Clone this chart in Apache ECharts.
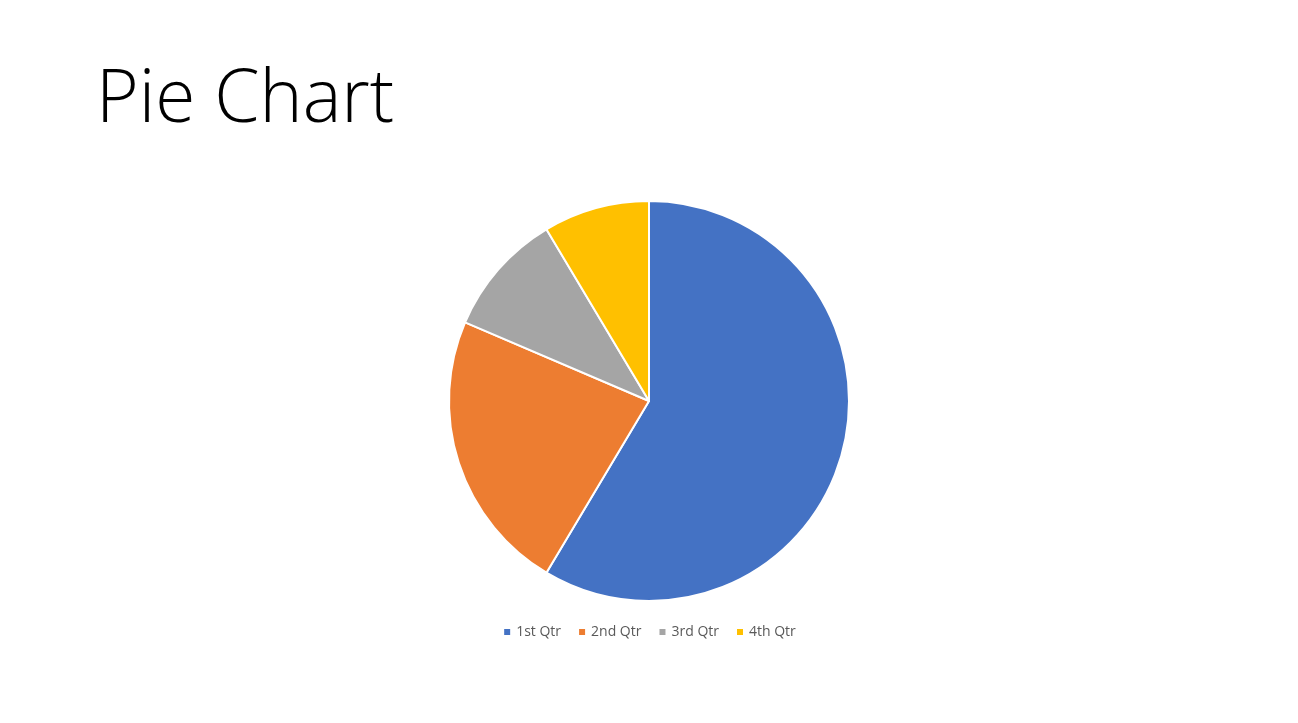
<!DOCTYPE html>
<html><head><meta charset="utf-8">
<script src="https://cdn.jsdelivr.net/npm/echarts@6/dist/echarts.min.js"></script>
<style>html,body{margin:0;padding:0;background:#fff}#c{width:1298px;height:723px}</style>
</head><body><div id="c"></div>
<script>
const titleText = 'Pie Chart';
const categories = ['1st Qtr', '2nd Qtr', '3rd Qtr', '4th Qtr'];
const values = [8.2, 3.2, 1.4, 1.2];
const colors = ['#4472C4', '#ED7D31', '#A5A5A5', '#FFC000'];

const chart = echarts.init(document.getElementById('c'), null, {renderer: 'canvas'});
chart.setOption({
  backgroundColor: '#fff',
  animation: false,
  color: colors,
  title: {
    text: titleText, left: 91, top: 60,
    textStyle: {fontFamily: 'Open Sans', fontWeight: 300, fontSize: 73, color: '#000'}
  },
  legend: {
    data: categories, bottom: 79, left: 'center',
    icon: 'rect', itemWidth: 8, itemHeight: 8, itemGap: 16,
    textStyle: {fontFamily: 'Open Sans', fontSize: 14, color: '#595959'}
  },
  series: [{
    type: 'pie', center: [649, 401], radius: 200, startAngle: 90, clockwise: true,
    label: {show: false}, labelLine: {show: false},
    itemStyle: {borderColor: '#fff', borderWidth: 2},
    emphasis: {disabled: true},
    data: categories.map((c, i) => ({name: c, value: values[i]}))
  }]
});
</script></body></html>
